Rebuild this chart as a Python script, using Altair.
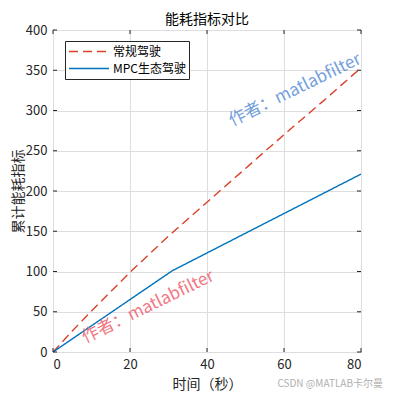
import altair as alt
import pandas as pd

# Data
t_conv = [0, 5, 10, 20, 30, 40, 50, 60, 70, 80]
e_conv = [0, 26, 51, 99, 144, 186, 228, 270, 311, 353]
t_mpc = [0, 31, 80]
e_mpc = [0, 101, 221]
series = ["常规驾驶", "MPC生态驾驶"]
x_ticks = [0, 20, 40, 60, 80]
y_ticks = [0, 50, 100, 150, 200, 250, 300, 350, 400]
title_text = "能耗指标对比"

rows = [{"t": t, "e": e, "s": series[0]} for t, e in zip(t_conv, e_conv)]
rows += [{"t": t, "e": e, "s": series[1]} for t, e in zip(t_mpc, e_mpc)]
df = pd.DataFrame(rows)

W, H = 308, 322
FONT = "Noto Sans CJK SC"
AX = "#262626"

xs = alt.Scale(domain=[0, 80], nice=False)
ys = alt.Scale(domain=[0, 400], nice=False)

leg = alt.Legend(title=None, orient="none", legendX=12, legendY=11,
                 strokeColor="#262626", fillColor="white",
                 padding=3, symbolType="stroke", symbolSize=1600,
                 symbolStrokeWidth=1.4, labelFontSize=12,
                 labelFont=FONT, labelColor="#000000", clipHeight=15,
                 rowPadding=2, labelLimit=200, labelOffset=3)

lines = alt.Chart(df).mark_line(strokeWidth=1.4, clip=True).encode(
    x=alt.X("t:Q", scale=xs, title="时间（秒）",
            axis=alt.Axis(values=x_ticks, grid=True, gridColor="#dedede", gridWidth=1,
                          tickSize=0, labelPadding=6, domain=False,
                          titleY=32, titleBaseline="middle")),
    y=alt.Y("e:Q", scale=ys, title="累计能耗指标",
            axis=alt.Axis(values=y_ticks, grid=True, gridColor="#dedede", gridWidth=1,
                          tickSize=0, labelPadding=6, domain=False,
                          titleX=-35, titleBaseline="middle")),
    color=alt.Color("s:N", scale=alt.Scale(domain=series, range=["#D9412B", "#0072BD"]),
                    legend=leg),
    strokeDash=alt.StrokeDash("s:N", scale=alt.Scale(domain=series, range=[[9, 5], [1, 0]]),
                              legend=leg),
)

xt = pd.DataFrame({"v": x_ticks})
yt = pd.DataFrame({"v": y_ticks})
tb = alt.Chart(xt).mark_rule(color=AX, strokeWidth=1).encode(x=alt.X("v:Q", scale=xs), y=alt.value(H), y2=alt.value(H - 4))
tt = alt.Chart(xt).mark_rule(color=AX, strokeWidth=1).encode(x=alt.X("v:Q", scale=xs), y=alt.value(0), y2=alt.value(4))
tl = alt.Chart(yt).mark_rule(color=AX, strokeWidth=1).encode(y=alt.Y("v:Q", scale=ys), x=alt.value(0), x2=alt.value(4))
tr = alt.Chart(yt).mark_rule(color=AX, strokeWidth=1).encode(y=alt.Y("v:Q", scale=ys), x=alt.value(W), x2=alt.value(W - 4))

wm = pd.DataFrame({"txt": ["作者：matlabfilter"]})
wm_blue = alt.Chart(wm).mark_text(angle=334, fontSize=17, font=FONT, color="#5B8FD9", opacity=0.85).encode(
    text="txt:N", x=alt.value(242), y=alt.value(60))
wm_red = alt.Chart(wm).mark_text(angle=334, fontSize=17, font=FONT, color="#F0606E", opacity=0.85).encode(
    text="txt:N", x=alt.value(95), y=alt.value(277))
csdn = alt.Chart(pd.DataFrame({"txt": ["CSDN @MATLAB卡尔曼"]})).mark_text(
    fontSize=10, font=FONT, color="#b0b0b0", align="right", baseline="middle").encode(
    text="txt:N", x=alt.value(330), y=alt.value(354))

chart = alt.layer(lines, tb, tt, tl, tr, wm_blue, wm_red, csdn).properties(
    width=W, height=H, background="white",
    title=alt.TitleParams(title_text, font=FONT, fontSize=14, fontWeight="normal",
                          color="#000000", offset=0, dy=3),
    autosize=alt.AutoSizeParams(type="none"),
    padding={"left": 45, "top": 22, "right": 31, "bottom": 40},
).configure_view(stroke=AX, strokeWidth=1).configure_axis(
    labelFont=FONT, labelFontSize=13, labelColor=AX, titleFont=FONT, titleFontSize=14,
    titleColor=AX, titleFontWeight="normal",
)

chart.save("out.html", embed_options={"renderer": "svg", "actions": False})
